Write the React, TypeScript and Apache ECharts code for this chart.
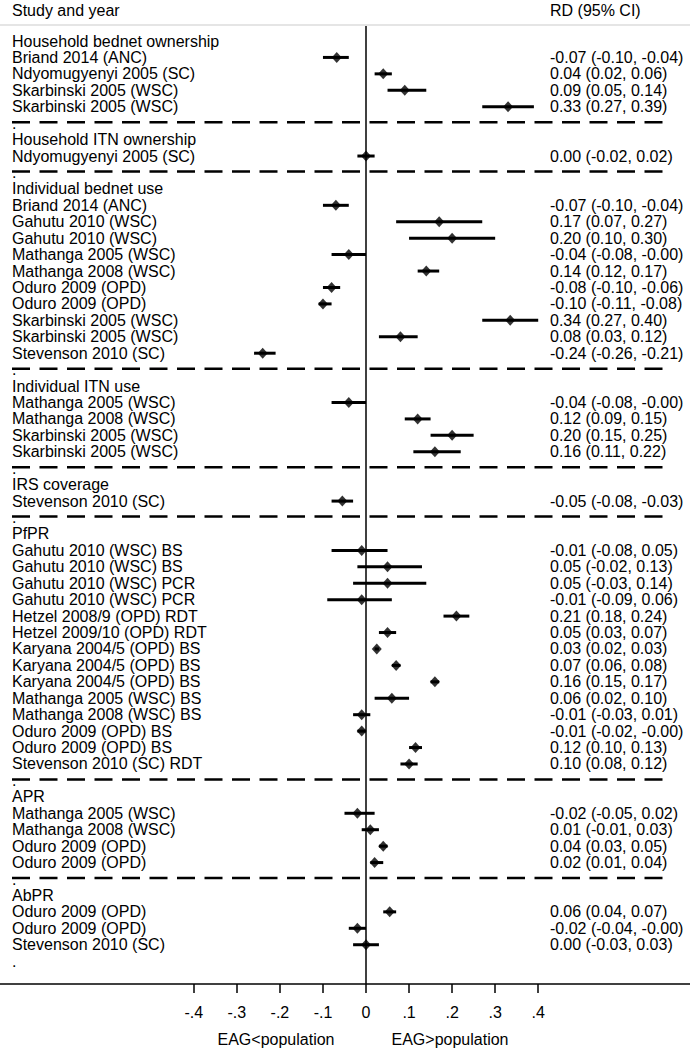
import React, { useEffect, useRef } from "react";
import * as echarts from "echarts";

const FONT = "'Liberation Sans', Arial, sans-serif";

// Row labels (left column), one per row; "." marks a blank separator row
const rowLabels: string[] = [
  "Household bednet ownership",
  "Briand 2014 (ANC)",
  "Ndyomugyenyi 2005 (SC)",
  "Skarbinski 2005 (WSC)",
  "Skarbinski 2005 (WSC)",
  ".",
  "Household ITN ownership",
  "Ndyomugyenyi 2005 (SC)",
  ".",
  "Individual bednet use",
  "Briand 2014 (ANC)",
  "Gahutu 2010 (WSC)",
  "Gahutu 2010 (WSC)",
  "Mathanga 2005 (WSC)",
  "Mathanga 2008 (WSC)",
  "Oduro 2009 (OPD)",
  "Oduro 2009 (OPD)",
  "Skarbinski 2005 (WSC)",
  "Skarbinski 2005 (WSC)",
  "Stevenson 2010 (SC)",
  ".",
  "Individual ITN use",
  "Mathanga 2005 (WSC)",
  "Mathanga 2008 (WSC)",
  "Skarbinski 2005 (WSC)",
  "Skarbinski 2005 (WSC)",
  ".",
  "IRS coverage",
  "Stevenson 2010 (SC)",
  ".",
  "PfPR",
  "Gahutu 2010 (WSC) BS",
  "Gahutu 2010 (WSC) BS",
  "Gahutu 2010 (WSC) PCR",
  "Gahutu 2010 (WSC) PCR",
  "Hetzel 2008/9 (OPD) RDT",
  "Hetzel 2009/10 (OPD) RDT",
  "Karyana 2004/5 (OPD) BS",
  "Karyana 2004/5 (OPD) BS",
  "Karyana 2004/5 (OPD) BS",
  "Mathanga 2005 (WSC) BS",
  "Mathanga 2008 (WSC) BS",
  "Oduro 2009 (OPD) BS",
  "Oduro 2009 (OPD) BS",
  "Stevenson 2010 (SC) RDT",
  ".",
  "APR",
  "Mathanga 2005 (WSC)",
  "Mathanga 2008 (WSC)",
  "Oduro 2009 (OPD)",
  "Oduro 2009 (OPD)",
  ".",
  "AbPR",
  "Oduro 2009 (OPD)",
  "Oduro 2009 (OPD)",
  "Stevenson 2010 (SC)",
  ".",
];

// RD (95% CI) text, right column
const rdLabels: string[] = [
  "", "-0.07 (-0.10, -0.04)", "0.04 (0.02, 0.06)", "0.09 (0.05, 0.14)", "0.33 (0.27, 0.39)",
  "", "", "0.00 (-0.02, 0.02)",
  "", "", "-0.07 (-0.10, -0.04)", "0.17 (0.07, 0.27)", "0.20 (0.10, 0.30)", "-0.04 (-0.08, -0.00)",
  "0.14 (0.12, 0.17)", "-0.08 (-0.10, -0.06)", "-0.10 (-0.11, -0.08)", "0.34 (0.27, 0.40)",
  "0.08 (0.03, 0.12)", "-0.24 (-0.26, -0.21)",
  "", "", "-0.04 (-0.08, -0.00)", "0.12 (0.09, 0.15)", "0.20 (0.15, 0.25)", "0.16 (0.11, 0.22)",
  "", "", "-0.05 (-0.08, -0.03)",
  "", "", "-0.01 (-0.08, 0.05)", "0.05 (-0.02, 0.13)", "0.05 (-0.03, 0.14)", "-0.01 (-0.09, 0.06)",
  "0.21 (0.18, 0.24)", "0.05 (0.03, 0.07)", "0.03 (0.02, 0.03)", "0.07 (0.06, 0.08)",
  "0.16 (0.15, 0.17)", "0.06 (0.02, 0.10)", "-0.01 (-0.03, 0.01)", "-0.01 (-0.02, -0.00)",
  "0.12 (0.10, 0.13)", "0.10 (0.08, 0.12)",
  "", "", "-0.02 (-0.05, 0.02)", "0.01 (-0.01, 0.03)", "0.04 (0.03, 0.05)", "0.02 (0.01, 0.04)",
  "", "", "0.06 (0.04, 0.07)", "-0.02 (-0.04, -0.00)", "0.00 (-0.03, 0.03)",
  "",
];

const N = null;
// Point estimates
const estimates: (number | null)[] = [
  N, -0.068, 0.04, 0.09, 0.33,
  N, N, 0.0,
  N, N, -0.07, 0.17, 0.2, -0.04, 0.14, -0.08, -0.1, 0.335, 0.08, -0.24,
  N, N, -0.04, 0.12, 0.2, 0.16,
  N, N, -0.055,
  N, N, -0.01, 0.05, 0.05, -0.01, 0.21, 0.05, 0.025, 0.07, 0.16, 0.06, -0.01, -0.01, 0.115, 0.1,
  N, N, -0.02, 0.01, 0.04, 0.02,
  N, N, 0.055, -0.02, 0.0,
  N,
];
// Lower CI bounds
const ciLow: (number | null)[] = [
  N, -0.1, 0.02, 0.05, 0.27,
  N, N, -0.02,
  N, N, -0.1, 0.07, 0.1, -0.08, 0.12, -0.1, -0.11, 0.27, 0.03, -0.26,
  N, N, -0.08, 0.09, 0.15, 0.11,
  N, N, -0.08,
  N, N, -0.08, -0.02, -0.03, -0.09, 0.18, 0.03, 0.02, 0.06, 0.15, 0.02, -0.03, -0.02, 0.1, 0.08,
  N, N, -0.05, -0.01, 0.03, 0.01,
  N, N, 0.04, -0.04, -0.03,
  N,
];
// Upper CI bounds
const ciHigh: (number | null)[] = [
  N, -0.04, 0.06, 0.14, 0.39,
  N, N, 0.02,
  N, N, -0.04, 0.27, 0.3, -0.0, 0.17, -0.06, -0.08, 0.4, 0.12, -0.21,
  N, N, -0.0, 0.15, 0.25, 0.22,
  N, N, -0.03,
  N, N, 0.05, 0.13, 0.14, 0.06, 0.24, 0.07, 0.03, 0.08, 0.17, 0.1, 0.01, -0.0, 0.13, 0.12,
  N, N, 0.02, 0.03, 0.05, 0.04,
  N, N, 0.07, -0.0, 0.03,
  N,
];

// X axis ticks
const tickValues = [-0.4, -0.3, -0.2, -0.1, 0, 0.1, 0.2, 0.3, 0.4];
const tickLabels = ["-.4", "-.3", "-.2", "-.1", "0", ".1", ".2", ".3", ".4"];

export default function App() {
  const ref = useRef<HTMLDivElement>(null);

  useEffect(() => {
    document.body.style.margin = "0";
    if (!ref.current) return;
    const chart = echarts.init(ref.current, null, { renderer: "svg" });

    const rows = rowLabels.map((_, i) => i);
    const pointData: number[][] = [];
    const ciData: number[][] = [];
    rows.forEach((i) => {
      const e = estimates[i];
      const lo = ciLow[i];
      const hi = ciHigh[i];
      if (e !== null && lo !== null && hi !== null) {
        pointData.push([e, i]);
        ciData.push([lo, hi, i]);
      }
    });
    const sepData = rows
      .filter((i) => rowLabels[i] === "." && i < rowLabels.length - 1)
      .map((i) => [0, i]);

    const labelStyle = { fontSize: 16, color: "#000", fontFamily: FONT };
    const yMin = -0.913;
    const yMax = 57.39;

    const option: any = {
      animation: false,
      grid: { left: 0, right: 0, top: 26, bottom: 65, outerBoundsMode: "none" },
      xAxis: {
        type: "value",
        position: "bottom",
        min: -0.8502,
        max: 0.7526,
        axisLine: { show: true, onZero: false, lineStyle: { color: "#000", width: 1.5 } },
        axisTick: {
          show: true,
          customValues: tickValues,
          length: 9,
          lineStyle: { color: "#000", width: 1.5 },
        },
        axisLabel: {
          ...labelStyle,
          customValues: tickValues,
          margin: 20,
          formatter: (v: number) => {
            const k = tickValues.findIndex((t) => Math.abs(t - v) < 1e-9);
            return k >= 0 ? tickLabels[k] : "";
          },
        },
        splitLine: { show: false },
      },
      yAxis: [
        {
          type: "value",
          inverse: true,
          min: yMin,
          max: yMax,
          position: "left",
          axisLine: { show: false, onZero: false },
          axisTick: { show: false },
          splitLine: { show: false },
          axisLabel: {
            ...labelStyle,
            inside: true,
            margin: 12,
            align: "left",
            customValues: rows,
            formatter: (v: number) => rowLabels[Math.round(v)] ?? "",
          },
        },
        {
          type: "value",
          inverse: true,
          min: yMin,
          max: yMax,
          position: "right",
          axisLine: { show: false, onZero: false },
          axisTick: { show: false },
          splitLine: { show: false },
          axisLabel: {
            ...labelStyle,
            inside: true,
            margin: 140,
            align: "left",
            customValues: rows,
            formatter: (v: number) => rdLabels[Math.round(v)] ?? "",
          },
        },
      ],
      series: [
        {
          type: "custom",
          name: "separators",
          yAxisIndex: 0,
          data: sepData,
          encode: { x: 0, y: 1 },
          renderItem: (params: any, api: any) => {
            const cs = params.coordSys;
            const y = api.coord([0, api.value(1)])[1] - 1;
            return {
              type: "line",
              shape: { x1: cs.x + 12, y1: y, x2: cs.x + cs.width - 18, y2: y },
              style: { stroke: "#000", lineWidth: 2.5, lineDash: [18, 9.5] },
            };
          },
          silent: true,
          z: 1,
        },
        {
          type: "custom",
          name: "ci",
          yAxisIndex: 0,
          data: ciData,
          encode: { x: [0, 1], y: 2 },
          renderItem: (_params: any, api: any) => {
            const p1 = api.coord([api.value(0), api.value(2)]);
            const p2 = api.coord([api.value(1), api.value(2)]);
            return {
              type: "line",
              shape: { x1: p1[0], y1: p1[1], x2: p2[0], y2: p2[1] },
              style: { stroke: "#000", lineWidth: 3 },
            };
          },
          silent: true,
          z: 3,
        },
        {
          type: "scatter",
          name: "estimate",
          yAxisIndex: 0,
          data: pointData,
          symbol: "diamond",
          symbolSize: [10, 11],
          itemStyle: { color: "#000" },
          silent: true,
          z: 4,
          markLine: {
            silent: true,
            symbol: ["none", "none"],
            label: { show: false },
            lineStyle: { color: "#000", width: 1.5, type: "solid" },
            data: [{ xAxis: 0 }],
          },
        },
      ],
      graphic: [
        {
          type: "line",
          x: 0,
          y: 25,
          shape: { x1: 0, y1: 0, x2: 690, y2: 0 },
          style: { stroke: "#cccccc", lineWidth: 1.2 },
          silent: true,
        },
        {
          type: "text",
          x: 12,
          y: 10,
          style: {
            text: "Study and year",
            fontSize: 16,
            fontFamily: FONT,
            fill: "#000",
            align: "left",
            verticalAlign: "middle",
          },
        },
        {
          type: "text",
          x: 550,
          y: 10,
          style: {
            text: "RD (95% CI)",
            fontSize: 16,
            fontFamily: FONT,
            fill: "#000",
            align: "left",
            verticalAlign: "middle",
          },
        },
        {
          type: "text",
          x: 276,
          y: 1039,
          style: {
            text: "EAG<population",
            fontSize: 16,
            fontFamily: FONT,
            fill: "#000",
            align: "center",
            verticalAlign: "middle",
          },
        },
        {
          type: "text",
          x: 450,
          y: 1039,
          style: {
            text: "EAG>population",
            fontSize: 16,
            fontFamily: FONT,
            fill: "#000",
            align: "center",
            verticalAlign: "middle",
          },
        },
      ],
    };

    chart.setOption(option);
    return () => {
      chart.dispose();
    };
  }, []);

  return <div ref={ref} style={{ width: 690, height: 1049 }} />;
}
